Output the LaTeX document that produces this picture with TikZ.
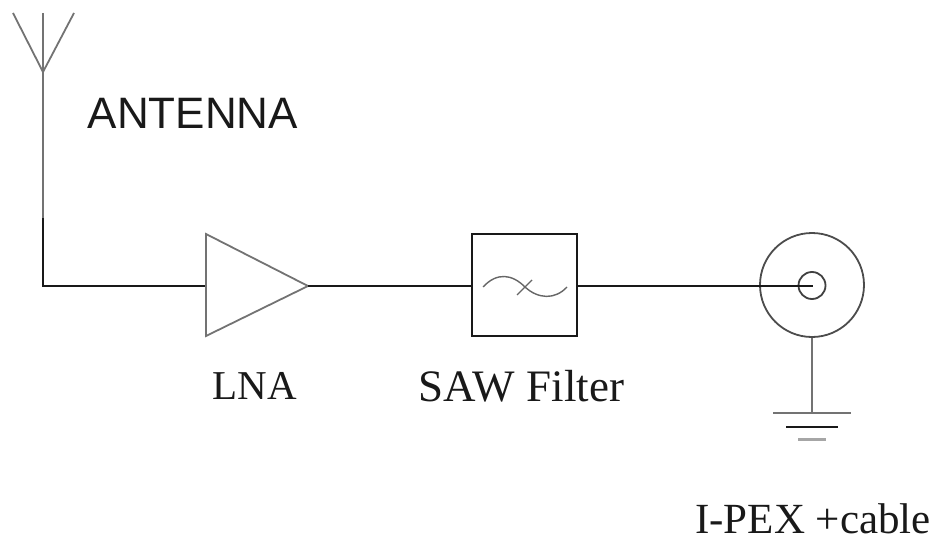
\documentclass[tikz,border=0pt]{standalone}
\usepackage{fontspec}
\setmainfont{Liberation Serif}
\newfontfamily\sansf{Liberation Sans}
\begin{document}
\begin{tikzpicture}[x=1pt,y=-1pt,
  wire/.style={line width=1.9pt,draw=black!90},
  thin wire/.style={line width=1.8pt,draw=black!55},
  lbl/.style={inner sep=0pt,anchor=center,text=black!90}]
\useasboundingbox (0,0) rectangle (935,543);
\coordinate (tip) at (43,72);
\coordinate (stemEnd) at (43,218);
\coordinate (corner) at (43,286);
\coordinate (lnaIn) at (206,286);
\coordinate (lnaOut) at (308,286);
\coordinate (coreEnd) at (813,286);
\draw[thin wire] (13,13) -- (tip) -- (74,13);
\draw[thin wire] (43,13) -- (tip);
\draw[thin wire] (tip) -- (stemEnd);
\draw[wire] (stemEnd) -- (corner) -- (lnaIn);
\draw[thin wire,line join=miter] (206,234) -- (lnaOut) -- (206,336) -- cycle;
\node[draw=black!90,line width=1.9pt,minimum width=105pt,minimum height=102pt,inner sep=0pt] (saw) at (524.5,285) {};
\draw[wire] (lnaOut) -- (lnaOut -| saw.west);
\node[circle,draw=black!70,line width=1.8pt,minimum size=104pt,inner sep=0pt] (outer) at (812,285) {};
\node[circle,draw=black!75,line width=1.8pt,minimum size=27pt,inner sep=0pt] (inner) at (812,285.5) {};
\draw[wire] (coreEnd -| saw.east) -- (coreEnd);
\draw[line width=1.4pt,draw=black!60] (483,287) .. controls (497,272) and (512,274) .. (525,287) .. controls (538,299) and (555,300) .. (567,287);
\draw[line width=1.4pt,draw=black!60] (517,295) -- (532,280);
\coordinate (gnd) at (812,413);
\draw[thin wire] (outer.south) -- (gnd);
\draw[thin wire] (773,413) -- (851,413);
\draw[wire] (786,427) -- (838,427);
\draw[line width=2.4pt,draw=black!35] (798,439.5) -- (826,439.5);
\node[lbl,font=\sansf\fontsize{44}{46}\selectfont] (ant) at (193,113) {ANTENNA};
\node[lbl,font=\fontsize{41}{44}\selectfont] (lna) at (255,386) {LNA};
\node[lbl,font=\fontsize{45}{48}\selectfont] (sawl) at (521.5,386) {SAW Filter};
\node[lbl,font=\fontsize{43}{46}\selectfont] (ipex) at (813,519) {I-PEX +cable};
\end{tikzpicture}
\end{document}
